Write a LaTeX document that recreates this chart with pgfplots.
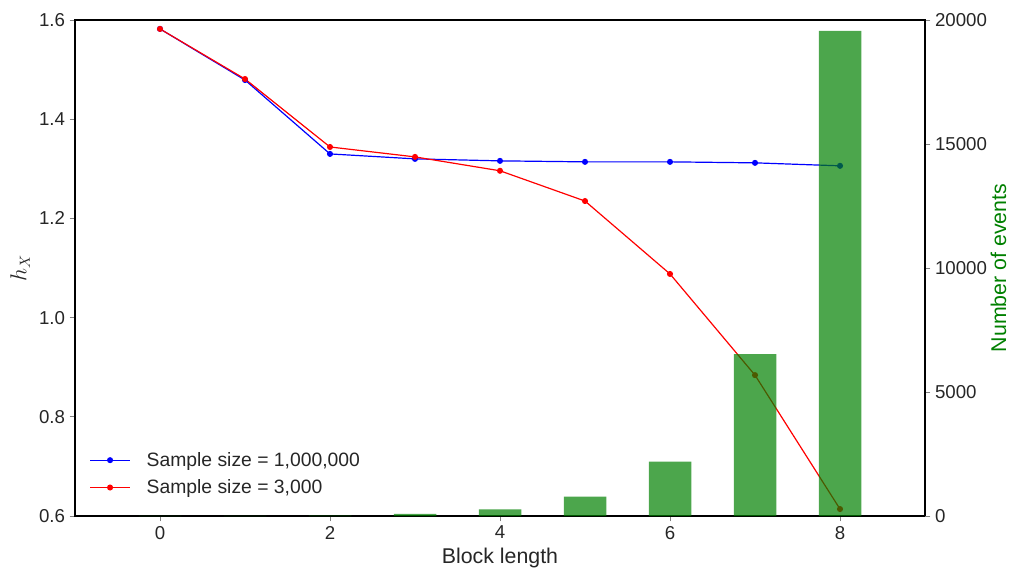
\documentclass[border=0pt]{standalone}
\usepackage{pgfplots}
\pgfplotsset{compat=1.18}
\usepackage{fontspec}
\setmainfont{Liberation Sans}
\definecolor{txt}{HTML}{262626}
\definecolor{mplgreen}{RGB}{0,128,0}

\begin{document}
\begin{tikzpicture}
\pgfplotsset{
  every axis/.append style={
    scale only axis, width=637.5pt, height=372pt,
    xmin=-1, xmax=9,
    tick style={color=gray, line width=0.6pt},
    major tick length=4pt,
    tick align=outside,
    tick label style={font=\fontsize{14}{16}\selectfont, color=txt},
    label style={font=\fontsize{16}{18}\selectfont, color=txt},
    /pgf/number format/assume math mode=true,
    axis line style={black, line width=0.8pt},
  }
}
% left axis: entropy estimates
\begin{axis}[
  ymin=0.6, ymax=1.6, ytick={0.6,0.8,...,1.6},
  xtick={0,2,4,6,8},
  xtick pos=left, ytick pos=left,
  yticklabel style={/pgf/number format/.cd, fixed, fixed zerofill, precision=1},
  xlabel={Block length}, ylabel={$h_X$},
  legend style={draw=none, fill=none, at={(0.012,0.03)}, anchor=south west,
    font=\fontsize{14.5}{16}\selectfont, text=txt, row sep=4.5pt, column sep=10pt},
  legend cell align=left,
  legend image code/.code={\draw[mark repeat=2,mark phase=2] plot coordinates {(0pt,0pt) (15pt,0pt) (30pt,0pt)};},
]
\addplot[blue, line width=0.9pt, mark=*, mark size=1.8pt] coordinates {
  (0,1.582) (1,1.479) (2,1.330) (3,1.320) (4,1.316)
  (5,1.314) (6,1.314) (7,1.312) (8,1.306)
};
\addlegendentry{Sample size = 1,000,000}
\addplot[red, line width=0.9pt, mark=*, mark size=1.8pt] coordinates {
  (0,1.582) (1,1.481) (2,1.344) (3,1.324) (4,1.296)
  (5,1.235) (6,1.088) (7,0.884) (8,0.614)
};
\addlegendentry{Sample size = 3,000}
\end{axis}
% right axis: number of events
\begin{axis}[
  ymin=0, ymax=20000, ytick={0,5000,...,20000},
  axis x line=none, axis y line*=right,
  scaled y ticks=false,
  yticklabel style={/pgf/number format/1000 sep={}},
  ylabel={Number of events},
  ylabel style={color=mplgreen},
  ylabel shift=-4pt,
]
\addplot[ybar, bar width=0.5, bar shift=0pt, fill=mplgreen, fill opacity=0.7, draw=none] coordinates {
  (0,1) (1,4) (2,16) (3,90) (4,270) (5,780) (6,2190) (7,6530) (8,19560)
};
\end{axis}
\pgfresetboundingbox
\useasboundingbox (-56.25pt,-41.25pt) rectangle (702.75pt,387pt);
\end{tikzpicture}
\end{document}
